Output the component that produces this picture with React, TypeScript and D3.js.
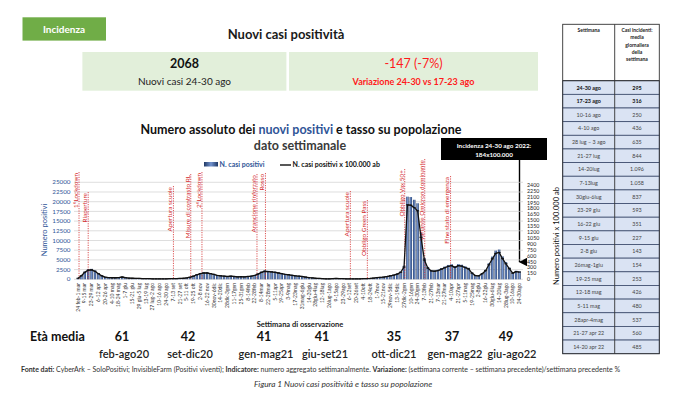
import React from 'react';
import * as d3 from 'd3';

// ---------- DATA ----------
const weeklyCases: number[] = [
  300, 1000, 2000, 2600, 2700, 2300, 1600, 1000, 600, 500,
  450, 450, 500, 650, 450, 350, 300, 250, 250, 200,
  200, 200, 150, 150, 150, 150, 150, 200, 200, 200,
  250, 300, 400, 600, 900, 1300, 1600, 1800, 1800, 1600,
  1400, 1100, 1000, 900, 800, 900, 800, 700, 750, 700,
  800, 900, 1100, 1500, 2000, 2300, 2200, 2100, 2000, 1800,
  1600, 1400, 1300, 1150, 1000, 900, 800, 650, 500, 400,
  300, 250, 200, 150, 150, 200, 250, 200, 200, 150,
  150, 150, 150, 150, 200, 200, 250, 350, 450, 550,
  650, 800, 1000, 1200, 1500, 2000, 3500, 21300, 21200, 20500,
  19600, 12000, 5500, 3200, 2400, 2300, 2500, 2900, 3300, 3700,
  3900, 3395, 3920, 3759, 3360, 2982, 1771, 1078, 1001, 1589,
  2457, 4151, 5859, 7406, 7672, 5908, 4445, 3052, 1750, 2212,
  2068,
];
const POPULATION = 1124000;

// labels of the even weeks (every other week is labelled)
const weekLabels: string[] = [
  '24 feb-1 mar', '9-15 mar', '23-29 mar', '6-12 apr', '20-26 apr', '4-10 mag', '18-24 mag',
  '1-7 giu', '15-21 giu', '29 giu-5 lug', '13-19 lug', '27 lug-2 ago', '10-16 ago', '24-30 ago',
  '7-13 set', '21-27 set', '5-11 ott', '19-25 ott', '2-8 nov', '16-22 nov', '30nov-6dic',
  '14-20dic', '28dic-3gen', '11-17gen', '25-31gen', '8-14feb', '22-28feb', '8-14mar',
  '22-28mar', '5-11apr', '19-25apr', '3-9mag', '17-23mag', '31mag-6giu', '14-20giu',
  '28giu-4lug', '12-18lug', '26lug-1ago', '9-15ago', '23-29ago', '6-12set', '20-26set',
  '4-10ott', '18-24ott', '1-7nov', '15-21nov', '29nov-5dic', '13-19dic', '27dic-2gen',
  '10-16gen', '24-30gen', '7-13feb', '21-27feb', '7-13mar', '21-27mar', '4-10apr',
  '21-27apr', '5-11mag', '19-25mag', '2-8giu', '16-22giu', '30giu-6lug', '14-20lug',
  '28lug-3ago', '10-16ago', '24-30ago',
];

const eventNames: string[] = [
  '1°Lockdown', 'Riaperture', 'Apertura scuole', 'Misure di contrasto RL', '2°Lockdown',
  'Arancione rinforzato', 'Rosso', 'Apertura scuole', 'Obbligo Green Pass', 'Obbligo Vax 50+',
  'Variante Omicron dominante', 'Fine stato di emergenza',
];
const eventWeeks: number[] = [0.3, 3.0, 28.1, 33.2, 36.5, 52.7, 55.2, 80.2, 85.2, 96.2, 102.1, 109.7];

const leftTicks: number[] = d3.range(0, 25001, 2500);
const rightTicks: number[] = d3.range(0, 2401, 150);

const ageValues: string[] = ['61', '42', '41', '41', '35', '37', '49'];
const agePeriods: string[] = ['feb-ago20', 'set-dic20', 'gen-mag21', 'giu-set21', 'ott-dic21', 'gen-mag22', 'giu-ago22'];

const tableWeeks: string[] = [
  '24-30 ago', '17-23 ago', '10-16 ago', '4-10 ago', '28 lug – 3 ago', '21-27 lug', '14-20lug',
  '7-13lug', '30giu-6lug', '23-29 giu', '16-22 giu', '9-15 giu', '2-8 giu', '26mag-1giu',
  '19-25 mag', '12-18 mag', '5-11 mag', '28apr-4mag', '21-27 apr 22', '14-20 apr 22',
];
const tableDaily: string[] = [
  '295', '316', '250', '436', '635', '844', '1.096', '1.058', '837', '593', '351', '227', '143',
  '154', '253', '426', '480', '537', '560', '485',
];

const newCases = '2068';
const variation = '-147 (-7%)';

// ---------- LAYOUT (positions / styles) ----------
const FONT = 'Lato, "Open Sans", sans-serif';
const BLUE = '#2f5597';
const RED = '#d42b2b';
const eventLabelTop: number[] = [173, 193, 187, 175, 173, 175, 174, 192, 201, 170, 160, 177];
const ageX: number[] = [122, 188, 264, 322, 394, 452, 506];
const periodX: number[] = [124, 190, 266, 325, 394, 455, 512];

export default function App() {
  const n = weeklyCases.length;
  const xc = d3.scaleLinear().domain([0, n - 1]).range([78, 519.5]);
  const step = xc(1) - xc(0);
  const barW = step * 0.72;
  const y = d3.scaleLinear().domain([0, 25000]).range([279.3, 182.3]);
  const yR = d3.scaleLinear().domain([0, 2400]).range([279.3, 185]);
  const rate = weeklyCases.map((v) => (v / POPULATION) * 100000);
  const line = d3
    .line<number>()
    .x((_, i) => xc(i))
    .y((d) => yR(d));

  const tX0 = 562.7, tX1 = 614.7, tX2 = 659.3, tY0 = 24.3, tHead = 80.7, rowH = 13.65;

  return (
    <svg
      width={680}
      height={398}
      style={{ position: 'absolute', left: 0, top: 0, background: '#fff' }}
      fontFamily={FONT}
    >
      <defs>
        <linearGradient id="barGrad" x1="0" x2="1" y1="0" y2="0">
          <stop offset="0%" stopColor="#1f3864" />
          <stop offset="50%" stopColor="#7393cf" />
          <stop offset="100%" stopColor="#1f3864" />
        </linearGradient>
        <marker id="arrowHead" viewBox="0 0 10 10" refX="5" refY="9" markerWidth="6" markerHeight="7" orient="auto-start-reverse">
          <path d="M0,0 L5,10 L10,0 Z" fill="#000" />
        </marker>
      </defs>
      <rect x={0} y={0} width={680} height={398} fill="#fff" />

      {/* Header */}
      <rect x={22.5} y={17.3} width={83.5} height={23.3} fill="#70ad47" />
      <text x={64} y={32.8} textAnchor="middle" fill="#fff" fontSize={10} fontWeight={700}>Incidenza</text>
      <text x={286} y={39} textAnchor="middle" fill="#1a1a1a" fontSize={13} fontWeight={700}>Nuovi casi positività</text>

      <rect x={82.4} y={52} width={204} height={38.7} fill="#e2efda" />
      <rect x={289} y={52} width={249} height={38.7} fill="#e2efda" />
      <text x={184.5} y={68} textAnchor="middle" fill="#111" fontSize={12.5} fontWeight={700}>{newCases}</text>
      <text x={184.5} y={84.5} textAnchor="middle" fill="#222" fontSize={10}>Nuovi casi 24-30 ago</text>
      <text x={413.5} y={68} textAnchor="middle" fill="#ff1a1a" fontSize={12.5}>{variation}</text>
      <text x={413.5} y={84.5} textAnchor="middle" fill="#ff1a1a" fontSize={9} fontWeight={700}>Variazione 24-30 vs 17-23 ago</text>

      {/* Chart title */}
      <text x={301} y={134} textAnchor="middle" fontSize={12.5} fontWeight={700} fill="#111">
        Numero assoluto dei <tspan fill={BLUE}>nuovi positivi</tspan> e tasso su popolazione
      </text>
      <text x={300} y={149.5} textAnchor="middle" fontSize={12.5} fontWeight={700} fill="#3a3a3a">dato settimanale</text>

      {/* Legend */}
      <rect x={204} y={162} width={14} height={4.5} fill="url(#barGrad)" />
      <text x={219.5} y={167} fontSize={7} fontWeight={700} fill={BLUE}>N. casi positivi</text>
      <line x1={280} x2={291} y1={165} y2={165} stroke="#111" strokeWidth={1.4} />
      <text x={292.5} y={167} fontSize={7} fontWeight={700} fill="#111">N. casi positivi x 100.000 ab</text>

      {/* Annotation */}
      <rect x={441} y={138} width={106} height={22} fill="#000" />
      <text x={494} y={147.5} textAnchor="middle" fill="#fff" fontSize={6.3} fontWeight={700}>Incidenza 24-30 ago 2022:</text>
      <text x={494} y={156.5} textAnchor="middle" fill="#fff" fontSize={6.3} fontWeight={700}>184x100.000</text>
      <line x1={xc(n - 1)} x2={xc(n - 1)} y1={160} y2={262} stroke="#000" strokeWidth={1.4} markerEnd="url(#arrowHead)" />

      {/* Gridlines */}
      {leftTicks.map((t) => (
        <line key={'g' + t} x1={74} x2={523} y1={y(t)} y2={y(t)} stroke="#d0d0d0" strokeWidth={0.7} />
      ))}

      {/* Left axis */}
      {leftTicks.map((t) => (
        <text key={'l' + t} x={70.5} y={y(t) + 2.1} textAnchor="end" fontSize={6.3} fill={BLUE}>{t}</text>
      ))}
      <text transform={`translate(47,230) rotate(-90)`} textAnchor="middle" fontSize={7.5} fill={BLUE}>Numero positivi</text>

      {/* Right axis */}
      {rightTicks.map((t) => (
        <text key={'r' + t} x={527} y={yR(t) + 1.9} fontSize={5.3} fill="#222">{t}</text>
      ))}
      <text transform={`translate(558.5,236) rotate(-90)`} textAnchor="middle" fontSize={7.5} fill="#111">Numero positivi x 100.000 ab</text>

      {/* Bars */}
      {weeklyCases.map((v, i) => (
        <rect key={'b' + i} x={xc(i) - barW / 2} y={y(v)} width={barW} height={y(0) - y(v)} fill="url(#barGrad)" />
      ))}

      {/* Events */}
      {eventWeeks.map((w, i) => {
        const ex = xc(w);
        return (
          <g key={'e' + i}>
            <line x1={ex} x2={ex} y1={eventLabelTop[i] - 1} y2={279.3} stroke={RED} strokeWidth={0.8} strokeDasharray="1.2,1.2" />
            <text transform={`translate(${ex - 1.2},${eventLabelTop[i]}) rotate(-90)`} textAnchor="end" fontSize={6.4} fill={RED}>
              {eventNames[i]}
            </text>
          </g>
        );
      })}

      {/* Rate line */}
      <path d={line(rate) || ''} fill="none" stroke="#111" strokeWidth={1.3} />
      {rate.map((r, i) => (
        <line key={'m' + i} x1={xc(i) - 1.5} x2={xc(i) + 1.5} y1={yR(r)} y2={yR(r)} stroke="#111" strokeWidth={1} />
      ))}

      {/* X labels */}
      {weekLabels.map((l, k) => (
        <text key={'x' + k} transform={`translate(${xc(2 * k) + 1.7},283) rotate(-90)`} textAnchor="end" fontSize={5} fill="#333">
          {l}
        </text>
      ))}
      <text x={300} y={326.5} textAnchor="middle" fontSize={7.5} fontWeight={700} fill="#222">Settimana di osservazione</text>

      {/* Età media */}
      <text x={30} y={340.5} fontSize={12.5} fontWeight={700} fill="#111">Età media</text>
      {ageValues.map((a, i) => (
        <text key={'a' + i} x={ageX[i]} y={340.5} textAnchor="middle" fontSize={12.5} fontWeight={700} fill="#111">{a}</text>
      ))}
      {agePeriods.map((p, i) => (
        <text key={'p' + i} x={periodX[i]} y={358} textAnchor="middle" fontSize={11} fontWeight={600} fill="#222">{p}</text>
      ))}

      {/* Footnote */}
      <text x={21} y={372} fontSize={7} fill="#333">
        <tspan fontWeight={700}>Fonte dati: </tspan>CyberArk – SoloPositivi; InvisibleFarm (Positivi viventi); <tspan fontWeight={700}>Indicatore: </tspan>numero aggregato settimanalmente. <tspan fontWeight={700}>Variazione: </tspan>(settimana corrente – settimana precedente)/settimana precedente %
      </text>
      <text x={343} y={387} textAnchor="middle" fontSize={8.3} fontStyle="italic" fill="#333">Figura 1 Nuovi casi positività e tasso su popolazione</text>

      {/* Table */}
      <rect x={tX0} y={tY0} width={tX2 - tX0} height={tHead - tY0} fill="#fff" />
      {tableWeeks.map((w, i) => (
        <g key={'t' + i}>
          <rect x={tX0} y={tHead + i * rowH} width={tX2 - tX0} height={rowH} fill="#dae3f3" stroke="#3b4a6b" strokeWidth={0.8} />
          <text x={(tX0 + tX1) / 2} y={tHead + i * rowH + rowH / 2 + 2} textAnchor="middle" fontSize={5.4} fontWeight={i < 2 ? 700 : 400} fill={i < 2 ? '#111' : '#444'}>{w}</text>
          <text x={(tX1 + tX2) / 2} y={tHead + i * rowH + rowH / 2 + 2} textAnchor="middle" fontSize={5.4} fontWeight={i < 2 ? 700 : 400} fill={i < 2 ? '#111' : '#444'}>{tableDaily[i]}</text>
        </g>
      ))}
      <rect x={tX0} y={tY0} width={tX2 - tX0} height={tHead + tableWeeks.length * rowH - tY0} fill="none" stroke="#333" strokeWidth={0.9} />
      <line x1={tX1} x2={tX1} y1={tY0} y2={tHead + tableWeeks.length * rowH} stroke="#333" strokeWidth={0.9} />
      <line x1={tX0} x2={tX2} y1={tHead} y2={tHead} stroke="#333" strokeWidth={1} />
      <text x={(tX0 + tX1) / 2} y={32} textAnchor="middle" fontSize={5} fontWeight={700} fill="#222">Settimana</text>
      {['Casi incidenti:', 'media', 'giornaliera', 'della', 'settimana'].map((s, i) => (
        <text key={'h' + i} x={(tX1 + tX2) / 2} y={32 + i * 7.3} textAnchor="middle" fontSize={5} fontWeight={700} fill="#222">{s}</text>
      ))}
    </svg>
  );
}
